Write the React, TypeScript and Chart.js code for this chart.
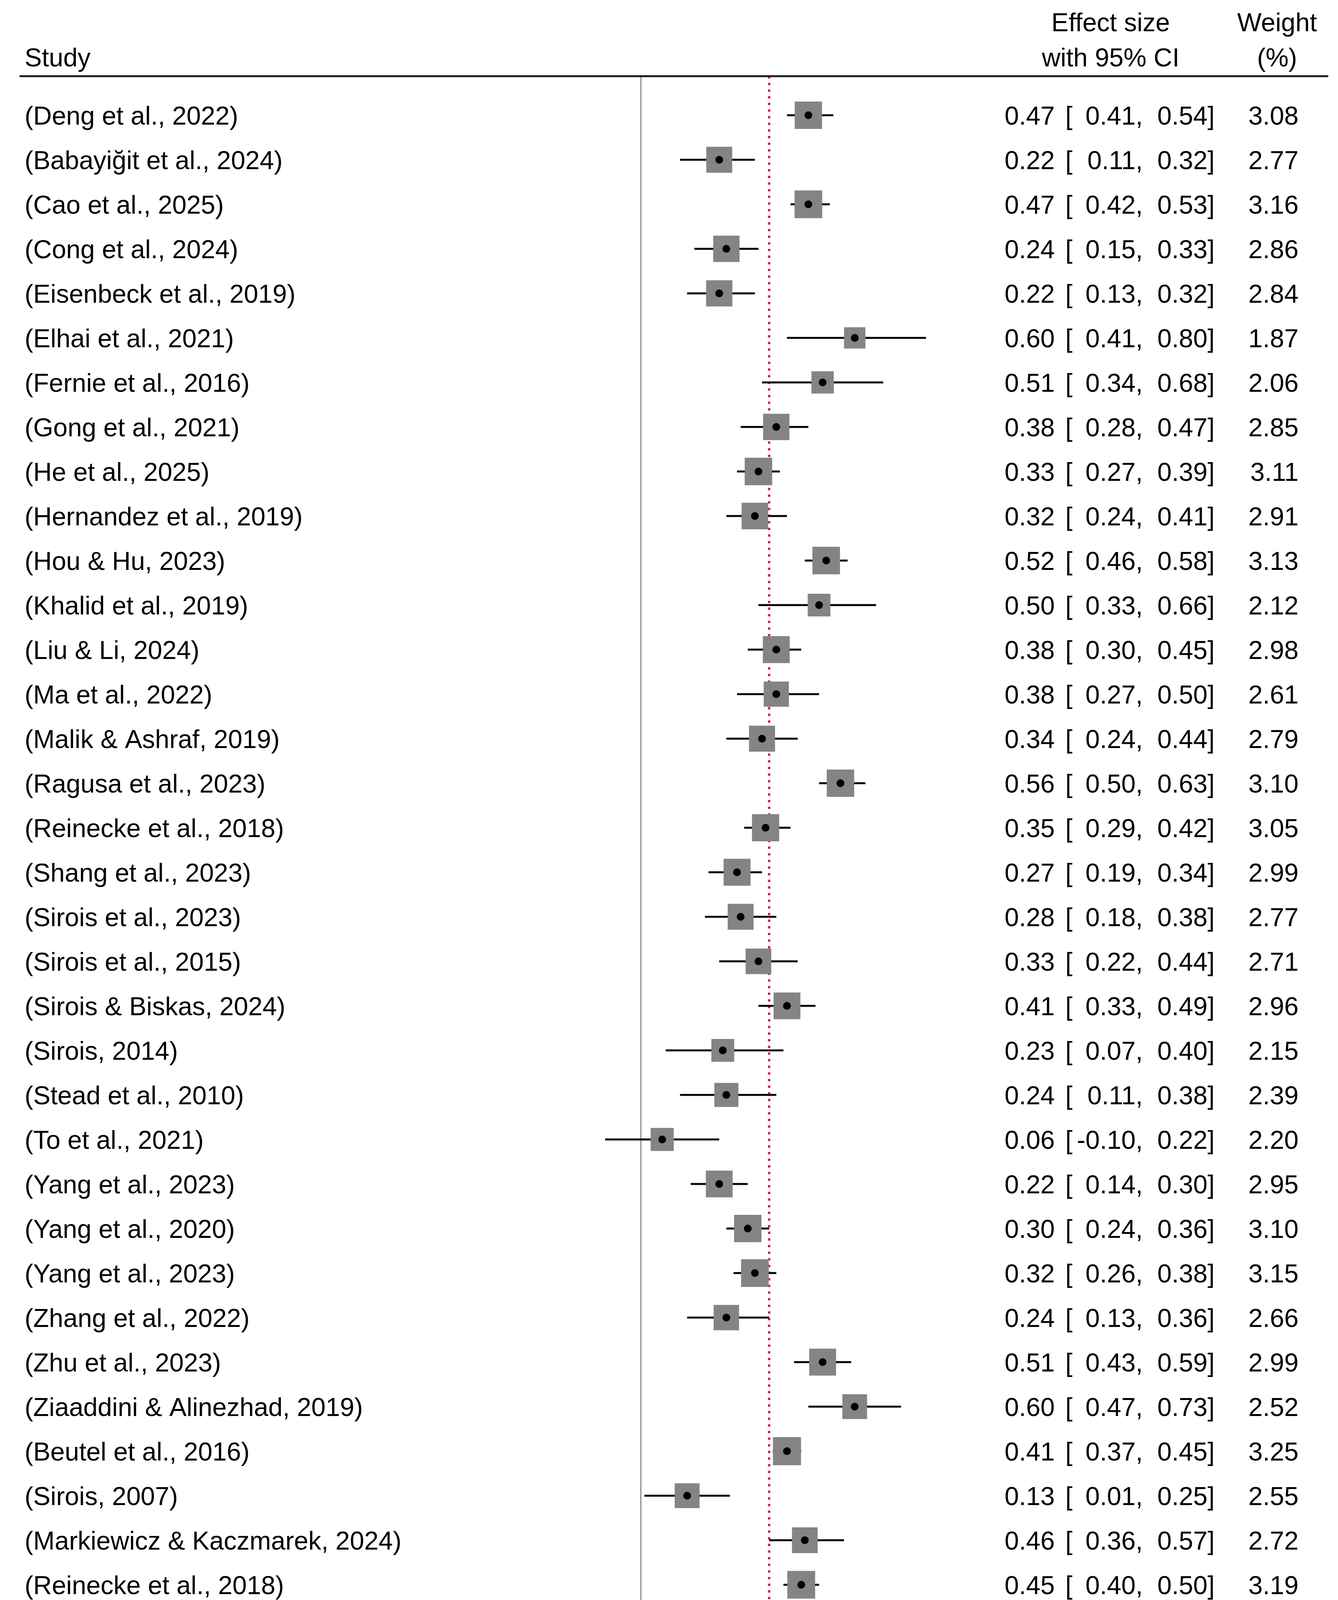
import React, { useEffect, useRef } from "react";
import { Chart, registerables } from "chart.js";

Chart.register(...registerables);

// ---------------- DATA ----------------
const studies = [
  "(Deng et al., 2022)",
  "(Babayiğit et al., 2024)",
  "(Cao et al., 2025)",
  "(Cong et al., 2024)",
  "(Eisenbeck et al., 2019)",
  "(Elhai et al., 2021)",
  "(Fernie et al., 2016)",
  "(Gong et al., 2021)",
  "(He et al., 2025)",
  "(Hernandez et al., 2019)",
  "(Hou & Hu, 2023)",
  "(Khalid et al., 2019)",
  "(Liu & Li, 2024)",
  "(Ma et al., 2022)",
  "(Malik & Ashraf, 2019)",
  "(Ragusa et al., 2023)",
  "(Reinecke et al., 2018)",
  "(Shang et al., 2023)",
  "(Sirois et al., 2023)",
  "(Sirois et al., 2015)",
  "(Sirois & Biskas, 2024)",
  "(Sirois, 2014)",
  "(Stead et al., 2010)",
  "(To et al., 2021)",
  "(Yang et al., 2023)",
  "(Yang et al., 2020)",
  "(Yang et al., 2023)",
  "(Zhang et al., 2022)",
  "(Zhu et al., 2023)",
  "(Ziaaddini & Alinezhad, 2019)",
  "(Beutel et al., 2016)",
  "(Sirois, 2007)",
  "(Markiewicz & Kaczmarek, 2024)",
  "(Reinecke et al., 2018)",
  "(Jochmann et al., 2024)",
  "(Sirois & Tosti, 2012)",
];

const effects = [
  0.47, 0.22, 0.47, 0.24, 0.22, 0.6, 0.51, 0.38, 0.33, 0.32, 0.52, 0.5, 0.38,
  0.38, 0.34, 0.56, 0.35, 0.27, 0.28, 0.33, 0.41, 0.23, 0.24, 0.06, 0.22, 0.3,
  0.32, 0.24, 0.51, 0.6, 0.41, 0.13, 0.46, 0.45, 0.2, 0.33,
];

const lowerCI = [
  0.41, 0.11, 0.42, 0.15, 0.13, 0.41, 0.34, 0.28, 0.27, 0.24, 0.46, 0.33, 0.3,
  0.27, 0.24, 0.5, 0.29, 0.19, 0.18, 0.22, 0.33, 0.07, 0.11, -0.1, 0.14, 0.24,
  0.26, 0.13, 0.43, 0.47, 0.37, 0.01, 0.36, 0.4, 0.1, 0.22,
];

const upperCI = [
  0.54, 0.32, 0.53, 0.33, 0.32, 0.8, 0.68, 0.47, 0.39, 0.41, 0.58, 0.66, 0.45,
  0.5, 0.44, 0.63, 0.42, 0.34, 0.38, 0.44, 0.49, 0.4, 0.38, 0.22, 0.3, 0.36,
  0.38, 0.36, 0.59, 0.73, 0.45, 0.25, 0.57, 0.5, 0.3, 0.44,
];

const weights = [
  3.08, 2.77, 3.16, 2.86, 2.84, 1.87, 2.06, 2.85, 3.11, 2.91, 3.13, 2.12, 2.98,
  2.61, 2.79, 3.1, 3.05, 2.99, 2.77, 2.71, 2.96, 2.15, 2.39, 2.2, 2.95, 3.1,
  3.15, 2.66, 2.99, 2.52, 3.25, 2.55, 2.72, 3.19, 2.78, 2.71,
];

const overallLabel = "Overall";
const overallEffect = 0.36;
const overallLower = 0.32;
const overallUpper = 0.4;

const xTickValues = [0, 0.5, 1];
const xTickLabels = ["0", ".5", "1"];

const headerStudy = "Study";
const headerEffect = ["Effect size", "with 95% CI"];
const headerWeight = ["Weight", "(%)"];

type Seg = { t: string; sup?: boolean; sub?: boolean };
const heterogeneityLine: Seg[] = [
  { t: "Heterogeneity: τ" },
  { t: "2", sup: true },
  { t: " = 0.01, I" },
  { t: "2", sup: true },
  { t: " = 88.29%, H" },
  { t: "2", sup: true },
  { t: " = 8.54" },
];
const homogeneityLine: Seg[] = [
  { t: "Test of θ = θ" },
  { t: "j", sub: true },
  { t: ": Q(35) = 250.09, p = 0.00" },
];
const effectTestLine: Seg[] = [{ t: "Test of θ = 0: z = 17.36, p = 0.00" }];
const footnote = "Random-effects REML model";

// ---------------- LAYOUT / STYLE ----------------
const W = 3425;
const H = 5087;
const FF = '"Liberation Sans", Arial, Helvetica, sans-serif';
const FS = 66;
const FOOT_FS = 64;
const SUB_FS = 34;

const X_MIN = -0.1;
const X_MAX = 1;
const PLOT_LEFT = 1549;
const PLOT_RIGHT = 2553;
const PLOT_TOP = 195;
const PLOT_BOTTOM = 4825;
const X_AXIS_H = 150;
const ROW_PX = 114;
const FIRST_ROW_PX = 295;
const Y_MIN = 1 - (FIRST_ROW_PX - PLOT_TOP) / ROW_PX;
const Y_MAX = Y_MIN + (PLOT_BOTTOM - PLOT_TOP) / ROW_PX;
const OVERALL_POS = 1 + (4423 - FIRST_ROW_PX) / ROW_PX;
const STATS_POS = [38.23, 39.24, 40.24];
const DIAMOND_HALF = 46 / ROW_PX;
const BASE_OFF = 24;

const LABEL_X = 63;
const EST_RIGHT = 2700;
const BRACKET_LEFT = 2727;
const LO_NUM_RIGHT = 2907;
const HI_NUM_RIGHT = 3091;
const WT_RIGHT = 3324;
const EFFECT_CX = 2843;
const WEIGHT_CX = 3269;
const HEADER_BASE1 = 80;
const HEADER_BASE2 = 170;
const HEADER_LINE_Y = 195;
const HEADER_LINE_X0 = 50;
const HEADER_LINE_X1 = 3400;
const FOOT_BASE = 5045;

const BOX_REF_SIDE = 70;
const BOX_REF_W = 3.08;

const BOX_COLOR = "#848484";
const REF_COLOR = "#d6164f";
const DIAMOND_COLOR = "#14b786";

const fmt = (v: number) => v.toFixed(2);

const textPlugin = {
  id: "forestText",
  beforeDraw(chart: any) {
    const ctx = chart.ctx;
    ctx.save();
    ctx.fillStyle = "#ffffff";
    ctx.fillRect(0, 0, chart.width, chart.height);
    ctx.restore();
  },
  afterDraw(chart: any) {
    const ctx: CanvasRenderingContext2D = chart.ctx;
    const ys = chart.scales.y;
    ctx.save();
    ctx.fillStyle = "#000";
    ctx.textBaseline = "alphabetic";
    ctx.font = `${FS}px ${FF}`;

    ctx.textAlign = "left";
    ctx.fillText(headerStudy, LABEL_X, HEADER_BASE2);
    ctx.textAlign = "center";
    ctx.fillText(headerEffect[0], EFFECT_CX, HEADER_BASE1);
    ctx.fillText(headerEffect[1], EFFECT_CX, HEADER_BASE2);
    ctx.fillText(headerWeight[0], WEIGHT_CX, HEADER_BASE1);
    ctx.fillText(headerWeight[1], WEIGHT_CX, HEADER_BASE2);

    ctx.strokeStyle = "#1a1a1a";
    ctx.lineWidth = 5;
    ctx.beginPath();
    ctx.moveTo(HEADER_LINE_X0, HEADER_LINE_Y);
    ctx.lineTo(HEADER_LINE_X1, HEADER_LINE_Y);
    ctx.stroke();

    const drawCI = (est: number, lo: number, hi: number, base: number) => {
      ctx.textAlign = "right";
      ctx.fillText(fmt(est), EST_RIGHT, base);
      ctx.textAlign = "left";
      ctx.fillText("[", BRACKET_LEFT, base);
      ctx.textAlign = "right";
      ctx.fillText(fmt(lo), LO_NUM_RIGHT, base);
      ctx.fillText(fmt(hi), HI_NUM_RIGHT, base);
      ctx.textAlign = "left";
      ctx.fillText(",", LO_NUM_RIGHT, base);
      ctx.fillText("]", HI_NUM_RIGHT, base);
    };

    studies.forEach((s, i) => {
      const base = ys.getPixelForValue(i + 1) + BASE_OFF;
      ctx.textAlign = "left";
      ctx.fillText(s, LABEL_X, base);
      drawCI(effects[i], lowerCI[i], upperCI[i], base);
      ctx.textAlign = "right";
      ctx.fillText(fmt(weights[i]), WT_RIGHT, base);
    });

    const ob = ys.getPixelForValue(OVERALL_POS) + BASE_OFF;
    ctx.font = `bold ${FS}px ${FF}`;
    ctx.textAlign = "left";
    ctx.fillText(overallLabel, LABEL_X, ob);
    ctx.font = `${FS}px ${FF}`;
    drawCI(overallEffect, overallLower, overallUpper, ob);

    const drawSegs = (segs: Seg[], base: number) => {
      let x = LABEL_X;
      ctx.textAlign = "left";
      segs.forEach((sg) => {
        if (sg.sup) {
          ctx.font = `${SUB_FS}px ${FF}`;
          ctx.fillText(sg.t, x, base - 44);
        } else if (sg.sub) {
          ctx.font = `${SUB_FS}px ${FF}`;
          ctx.fillText(sg.t, x, base + 2);
        } else {
          ctx.font = `${FS}px ${FF}`;
          ctx.fillText(sg.t, x, base);
        }
        x += ctx.measureText(sg.t).width;
      });
      ctx.font = `${FS}px ${FF}`;
    };
    drawSegs(heterogeneityLine, ys.getPixelForValue(STATS_POS[0]) + BASE_OFF);
    drawSegs(homogeneityLine, ys.getPixelForValue(STATS_POS[1]) + BASE_OFF);
    drawSegs(effectTestLine, ys.getPixelForValue(STATS_POS[2]) + BASE_OFF);

    ctx.font = `${FOOT_FS}px ${FF}`;
    ctx.textAlign = "left";
    ctx.fillText(footnote, LABEL_X, FOOT_BASE);
    ctx.restore();
  },
};

export default function App() {
  const ref = useRef<HTMLCanvasElement | null>(null);

  useEffect(() => {
    if (!ref.current) return;
    const boxSide = (w: number) => BOX_REF_SIDE * Math.sqrt(w / BOX_REF_W);

    const ciSets = studies.map((_, i) => ({
      type: "line" as const,
      data: [
        { x: lowerCI[i], y: i + 1 },
        { x: upperCI[i], y: i + 1 },
      ],
      borderColor: "#000",
      borderWidth: 5,
      pointRadius: 0,
      fill: false,
      clip: false as any,
      order: 5,
    }));

    const chart = new Chart(ref.current, {
      type: "scatter",
      data: {
        datasets: [
          {
            type: "line",
            data: [
              { x: overallEffect, y: Y_MIN },
              { x: overallEffect, y: Y_MAX },
            ],
            borderColor: REF_COLOR,
            borderWidth: 6,
            borderDash: [6, 11],
            pointRadius: 0,
            fill: false,
            order: 10,
          } as any,
          ...(ciSets as any[]),
          {
            type: "scatter",
            data: effects.map((e, i) => ({ x: e, y: i + 1 })),
            pointStyle: "rect",
            pointRadius: (c: any) => boxSide(weights[c.dataIndex]) / Math.SQRT2,
            backgroundColor: BOX_COLOR,
            borderWidth: 0,
            order: 3,
          } as any,
          {
            type: "scatter",
            data: effects.map((e, i) => ({ x: e, y: i + 1 })),
            pointStyle: "circle",
            pointRadius: 10,
            backgroundColor: "#000",
            borderWidth: 0,
            order: 1,
          } as any,
          {
            type: "line",
            data: [
              { x: overallLower, y: OVERALL_POS },
              { x: overallEffect, y: OVERALL_POS - DIAMOND_HALF },
              { x: overallUpper, y: OVERALL_POS },
              { x: overallEffect, y: OVERALL_POS + DIAMOND_HALF },
              { x: overallLower, y: OVERALL_POS },
            ],
            borderColor: DIAMOND_COLOR,
            backgroundColor: DIAMOND_COLOR,
            borderWidth: 1,
            pointRadius: 0,
            fill: "shape",
            tension: 0,
            order: 0,
          } as any,
        ],
      },
      options: {
        responsive: false,
        animation: false,
        devicePixelRatio: 1,
        events: [],
        layout: {
          padding: {
            left: PLOT_LEFT,
            right: W - PLOT_RIGHT,
            top: PLOT_TOP,
            bottom: H - PLOT_BOTTOM - X_AXIS_H,
          },
        },
        plugins: {
          legend: { display: false },
          tooltip: { enabled: false },
          title: { display: false },
        },
        scales: {
          x: {
            type: "linear",
            min: X_MIN,
            max: X_MAX,
            afterBuildTicks: (s: any) => {
              s.ticks = xTickValues.map((v) => ({ value: v }));
            },
            afterFit: (s: any) => {
              s.height = X_AXIS_H;
            },
            ticks: {
              autoSkip: false,
              maxRotation: 0,
              padding: 14,
              color: "#000",
              font: { size: FS, family: FF },
              callback: (v: any) => {
                const k = xTickValues.indexOf(Number(v));
                return k >= 0 ? xTickLabels[k] : "";
              },
            },
            grid: {
              drawOnChartArea: true,
              drawTicks: true,
              tickLength: 26,
              tickWidth: 3,
              tickColor: "#222",
              lineWidth: 3,
              color: (c: any) =>
                c.tick && c.tick.value === 0 ? "#8c8c8c" : "rgba(0,0,0,0)",
            },
            border: { display: true, color: "#333", width: 5 },
          },
          y: {
            type: "linear",
            reverse: true,
            min: Y_MIN,
            max: Y_MAX,
            display: false,
          },
        },
      } as any,
      plugins: [textPlugin],
    });

    return () => chart.destroy();
  }, []);

  return (
    <div style={{ position: "absolute", left: 0, top: 0, width: W, height: H, background: "#fff" }}>
      <canvas ref={ref} width={W} height={H} style={{ width: W, height: H, display: "block" }} />
    </div>
  );
}
